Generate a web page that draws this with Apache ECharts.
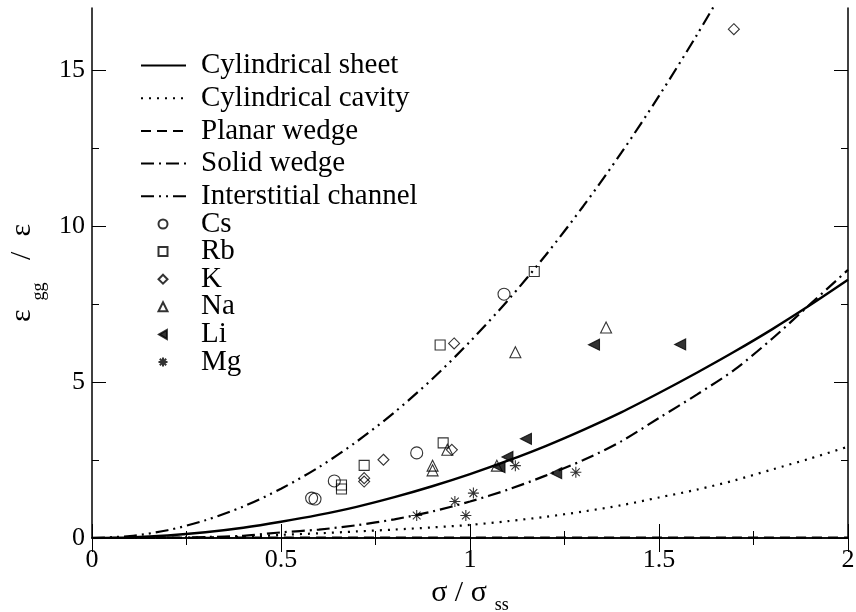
<!DOCTYPE html>
<html>
<head>
<meta charset="utf-8">
<script src="https://cdn.jsdelivr.net/npm/echarts@6/dist/echarts.min.js"></script>
<style>html,body{margin:0;padding:0;background:#fff}#c{width:856px;height:612px}</style>
</head>
<body>
<div id="c"></div>
<script>
// x grid for the model curves
var xs = [0,0.1,0.2,0.3,0.4,0.5,0.6,0.7,0.8,0.9,1.0,1.1,1.2,1.3,1.4,1.5,1.6,1.7,1.8,1.9,2.0];
var cylSheet  = [0,0.02,0.08,0.185,0.33,0.52,0.74,1.0,1.31,1.66,2.05,2.48,2.95,3.47,4.03,4.65,5.3,5.98,6.7,7.47,8.28];
var cylCavity = [0,0.001,0.005,0.015,0.04,0.1,0.15,0.21,0.27,0.34,0.42,0.54,0.68,0.85,1.05,1.3,1.55,1.85,2.2,2.55,2.93];
var planarWedge = [0,0.002,0.005,0.008,0.01,0.01,0.01,0.01,0.01,0.01,0.01,0.01,0.01,0.01,0.01,0.01,0.01,0.01,0.01,0.01,0.01];
var solidWedge = [0,0.001,0.01,0.03,0.07,0.18,0.27,0.41,0.6,0.85,1.17,1.55,2.0,2.5,3.1,3.85,4.6,5.4,6.4,7.5,8.6];
var interstitial = [0,0.063,0.25,0.57,1.01,1.58,2.27,3.09,4.03,5.1,6.3,7.62,9.07,10.65,12.35,14.18,16.13,18.2];

var Cs = [[0.581,1.28],[0.59,1.25],[0.641,1.83],[0.859,2.73],[1.09,7.82]];
var Rb = [[0.66,1.7],[0.66,1.57],[0.72,2.33],[0.921,6.19],[0.929,3.05],[1.17,8.55]];
var K  = [[0.72,1.92],[0.72,1.81],[0.771,2.51],[0.952,2.83],[0.958,6.24],[1.698,16.32]];
var Na = [[0.901,2.32],[0.901,2.17],[0.94,2.83],[1.071,2.32],[1.12,5.96],[1.36,6.75]];
var Li = [[1.078,2.27],[1.099,2.6],[1.148,3.18],[1.228,2.08],[1.328,6.2],[1.556,6.21]];
var Mg = [[0.859,0.72],[0.96,1.17],[1.009,1.44],[0.989,0.72],[1.12,2.32],[1.28,2.11]];

var yMajor = [0,5,10,15];
var yMinor = [2.5,7.5,12.5];

var FONT = 'Liberation Serif';
function pairs(ys){ return ys.map(function(y,i){ return [xs[i], y]; }); }

var asterisk = 'path://M5,0L5,10M0,5L10,5M1.46,1.46L8.54,8.54M1.46,8.54L8.54,1.46';
var leftTri = 'path://M0,5L8.66,0L8.66,10Z';

function lineSeries(name, ys, type, w){
  return {name:name, type:'line', data:pairs(ys), showSymbol:false, symbol:'none', smooth:0.3,
    clip:true, color:'#000', lineStyle:{color:'#000', width:w||2.2, type:type}, xAxisIndex:0, yAxisIndex:0, z:3};
}
function scatterSeries(name, data, sym, size, filled, rot){
  return {name:name, type:'scatter', data:data, symbol:sym, symbolSize:size, symbolRotate:rot||0,
    symbolKeepAspect:true,
    color:'#000', itemStyle:{color: filled ? '#000' : 'rgba(0,0,0,0)', borderColor:'#000', borderWidth:1.1},
    xAxisIndex:0, yAxisIndex:0, z:4};
}

var axisLineStyle = {show:true, lineStyle:{color:'#000', width:1.5}};
var chart = echarts.init(document.getElementById('c'));
chart.setOption({
  animation:false,
  backgroundColor:'#fff',
  grid:{left:92, right:8, top:8, bottom:74, containLabel:false, outerBoundsMode:'none'},
  legend:[{
    orient:'vertical', left:140, top:51, padding:0, itemWidth:45, itemHeight:14, itemGap:3.7,
    itemStyle:{color:'rgba(0,0,0,0)', borderColor:'rgba(0,0,0,0)', borderWidth:0, opacity:0},
    data:['Cylindrical sheet','Cylindrical cavity','Planar wedge','Solid wedge','Interstitial channel'],
    textStyle:{fontFamily:FONT, fontSize:29, lineHeight:29, color:'#000', padding:[0,0,0,10]}
  },{
    orient:'vertical', left:157.5, top:209.5, padding:0, itemWidth:9, itemHeight:9, itemGap:-1.4,
    data:['Cs','Rb','K','Na',{name:'Li', icon:leftTri},'Mg'],
    textStyle:{fontFamily:FONT, fontSize:29, lineHeight:24, color:'#000', padding:[0,0,0,28.5]}
  }],
  xAxis:[{
    type:'value', min:0, max:2, interval:0.5, position:'bottom',
    name:'{a|σ / σ}{b|ss}', nameLocation:'middle', nameGap:24,
    nameTextStyle:{rich:{a:{fontFamily:FONT, fontSize:30, lineHeight:30, verticalAlign:'top', color:'#000'},
                         b:{fontFamily:FONT, fontSize:18, lineHeight:20, verticalAlign:'top', padding:[18,0,0,8], color:'#000'}}},
    axisLine:axisLineStyle,
    axisTick:{show:true, inside:true, length:14, lineStyle:{color:'#000', width:1}},
    minorTick:{show:true, splitNumber:2, length:7, lineStyle:{color:'#000', width:1}},
    splitLine:{show:false},
    axisLabel:{fontFamily:FONT, fontSize:26, color:'#000', margin:9}
  },{
    type:'value', min:0, max:2, interval:0.5, position:'top',
    axisLine:axisLineStyle,
    axisTick:{show:true, inside:true, length:14, lineStyle:{color:'#000', width:1}},
    minorTick:{show:true, splitNumber:2, length:7, lineStyle:{color:'#000', width:1}},
    splitLine:{show:false}, axisLabel:{show:false}
  }],
  yAxis:[{
    type:'value', min:0, max:17, position:'left',
    name:'{a|ε}{b|gg}{a|   /  ε}', nameLocation:'middle', nameGap:35, nameRotate:90,
    nameTextStyle:{rich:{a:{fontFamily:FONT, fontSize:30, lineHeight:30, verticalAlign:'top', color:'#000'},
                         b:{fontFamily:FONT, fontSize:18, lineHeight:20, verticalAlign:'top', padding:[23,0,0,9], color:'#000'}}},
    axisLine:axisLineStyle,
    axisTick:{show:true, inside:true, length:14, customValues:yMajor, lineStyle:{color:'#000', width:1}},
    splitLine:{show:false},
    axisLabel:{fontFamily:FONT, fontSize:26, color:'#000', margin:7, customValues:yMajor}
  },{
    type:'value', min:0, max:17, position:'left', offset:0,
    axisLine:{show:false},
    axisTick:{show:true, inside:true, length:7, customValues:yMinor, lineStyle:{color:'#000', width:1}},
    splitLine:{show:false}, axisLabel:{show:false}
  },{
    type:'value', min:0, max:17, position:'right', offset:0,
    axisLine:axisLineStyle,
    axisTick:{show:true, inside:true, length:14, customValues:yMajor, lineStyle:{color:'#000', width:1}},
    splitLine:{show:false}, axisLabel:{show:false}
  },{
    type:'value', min:0, max:17, position:'right', offset:0,
    axisLine:{show:false},
    axisTick:{show:true, inside:true, length:7, customValues:yMinor, lineStyle:{color:'#000', width:1}},
    splitLine:{show:false}, axisLabel:{show:false}
  }],
  series:[
    lineSeries('Cylindrical sheet', cylSheet, 'solid', 2.4),
    lineSeries('Cylindrical cavity', cylCavity, [2,6], 2.2),
    lineSeries('Planar wedge', planarWedge, [10,6], 2.2),
    lineSeries('Solid wedge', solidWedge, [13,5,2,5], 2.2),
    lineSeries('Interstitial channel', interstitial, [13,5,2,5,2,5], 2.2),
    scatterSeries('Cs', Cs, 'circle', 12, false),
    scatterSeries('Rb', Rb, 'rect', 10, false),
    scatterSeries('K', K, 'diamond', 11, false),
    scatterSeries('Na', Na, 'triangle', 11, false),
    scatterSeries('Li', Li, 'triangle', 11, true, 90),
    scatterSeries('Mg', Mg, asterisk, 11, false)
  ]
});
</script>
</body>
</html>
